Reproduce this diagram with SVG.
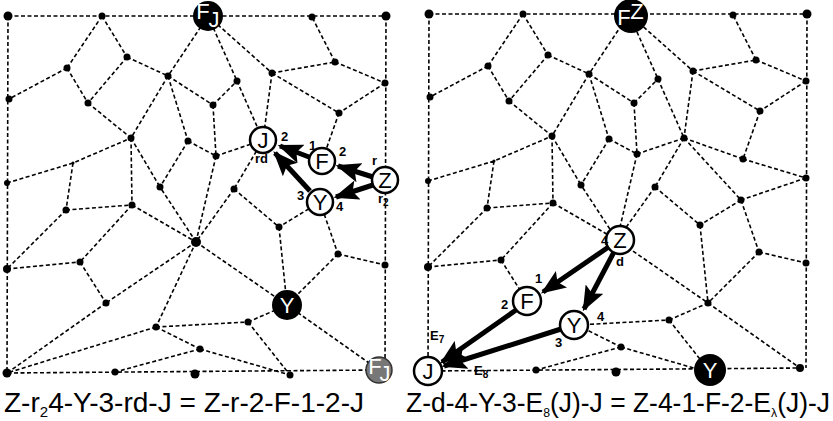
<svg xmlns="http://www.w3.org/2000/svg" xmlns:xlink="http://www.w3.org/1999/xlink" width="833" height="421" viewBox="0 0 833 421">
<style>
.e{stroke:#000;stroke-width:1.6;stroke-dasharray:4,2.5;fill:none}
.d{fill:#000}
.a{stroke:#000;stroke-width:5;fill:none;marker-end:url(#ah)}
.w{fill:#fff;stroke:#000;stroke-width:2.5}
.t{font-family:"Liberation Sans",Arial,sans-serif;font-size:22px;text-anchor:middle}
.l{font-family:"Liberation Sans",Arial,sans-serif;font-size:13px;font-weight:bold}
.c{font-family:"Liberation Sans",Arial,sans-serif;font-size:28px}
</style>
<defs>
<marker id="ah" markerWidth="5" markerHeight="4" refX="4.5" refY="2" orient="auto" markerUnits="strokeWidth"><path d="M0,0 L5,2 L0,4 L1,2 Z" fill="#000"/></marker>
<g id="graph">
<path class="e" d="M8,16L386,16 M8,16L7,373L379,370 M386,16L385,370
M102,16L127,57 M102,16L67,68 M127,57L168,76 M127,57L88,103 M67,68L9,99 M67,68L88,103 M88,103L131,138
M208,16L168,76 M168,76L131,138 M168,76L213,105 M168,76L188,141 M213,105L216,156 M213,105L237,81 M208,16L237,81 M208,16L272,73
M237,81L263,140 M272,73L263,140 M272,73L335,62 M272,73L339,113 M335,62L312,17 M335,62L385,83 M385,83L339,113 M339,113L322,161
M7,183L73,163L131,138 M131,138L160,187 M131,138L132,205 M188,141L216,156 M188,141L160,187 M216,156L263,140 M216,156L196,242
M263,140L234,189 M234,189L279,227 M234,189L196,242 M73,163L66,210 M320,202L279,227 M320,202L338,254
M66,210L132,205 M66,210L7,269 M132,205L80,262 M132,205L196,242 M7,269L80,262 M80,262L106,303 M196,242L160,187 M196,242L287,305
M279,227L287,305 M338,254L385,265 M338,254L287,305 M156,327L248,322 M248,322L287,305
M156,327L200,349 M200,349L115,372 M200,349L290,375 M248,322L290,375 M287,305L379,370"/>
<g class="d">
<circle cx="8" cy="16" r="4.5"/><circle cx="102" cy="16" r="3.5"/><circle cx="312" cy="17" r="3.5"/><circle cx="386" cy="16" r="4.5"/>
<circle cx="127" cy="57" r="3.5"/><circle cx="67" cy="68" r="3.5"/><circle cx="168" cy="76" r="3.5"/><circle cx="237" cy="81" r="3.5"/><circle cx="272" cy="73" r="3.5"/><circle cx="335" cy="62" r="3.5"/><circle cx="385" cy="83" r="3.5"/>
<circle cx="9" cy="99" r="3.5"/><circle cx="88" cy="103" r="3.5"/><circle cx="213" cy="105" r="3.5"/><circle cx="339" cy="113" r="3.5"/>
<circle cx="131" cy="138" r="3.5"/><circle cx="188" cy="141" r="3.5"/><circle cx="216" cy="156" r="3.5"/>
<circle cx="7" cy="183" r="3"/><circle cx="73" cy="163" r="1.5"/><circle cx="160" cy="187" r="3.5"/><circle cx="234" cy="189" r="3.5"/>
<circle cx="66" cy="210" r="3.5"/><circle cx="132" cy="205" r="3.5"/><circle cx="196" cy="242" r="5"/><circle cx="279" cy="227" r="3.5"/><circle cx="338" cy="254" r="3.5"/><circle cx="385" cy="265" r="3.5"/>
<circle cx="7" cy="269" r="4"/><circle cx="80" cy="262" r="3.5"/><circle cx="106" cy="303" r="3.5"/><circle cx="287" cy="305" r="3.5"/>
<circle cx="156" cy="327" r="3.5"/><circle cx="248" cy="322" r="3.5"/><circle cx="200" cy="349" r="3.5"/>
<circle cx="7" cy="373" r="4.5"/><circle cx="115" cy="372" r="3.5"/><circle cx="195" cy="374" r="4.5"/><circle cx="290" cy="375" r="3.5"/><circle cx="379" cy="370" r="4"/>
<circle cx="263" cy="140" r="3.5"/><circle cx="322" cy="161" r="3.5"/><circle cx="385" cy="180" r="3.5"/><circle cx="320" cy="202" r="3.5"/><circle cx="208" cy="16" r="4"/>
</g>
</g>
</defs>

<g id="connectors">
<use xlink:href="#graph" href="#graph"/>
<use xlink:href="#graph" href="#graph" transform="translate(421,-2)"/>
<path class="e" d="M196,242L106,303 M196,242L156,327 M106,303L7,373 M156,327L7,373"/>
<path class="e" transform="translate(421,-2)" d="M263,140L322,161 M322,161L385,180 M263,140L320,202 M385,180L320,202"/>
<line class="a" x1="373" y1="177" x2="338" y2="166"/>
<line class="a" x1="309" y1="157" x2="280" y2="146"/>
<line class="a" x1="310" y1="191" x2="275" y2="153"/>
<line class="a" x1="373" y1="185" x2="336" y2="197"/>
<line class="a" x1="610" y1="246" x2="543" y2="292"/>
<line class="a" x1="614" y1="252" x2="584" y2="309"/>
<line class="a" x1="516" y1="310" x2="442" y2="362"/>
<line class="a" x1="561" y1="329" x2="444" y2="366"/>
</g>

<g id="node-FJ"><circle cx="208" cy="16" r="15" fill="#000"/><text x="203" y="19" class="t" fill="#fff" font-size="17">F</text><text x="214" y="27" class="t" fill="#fff" font-size="17">J</text></g>
<g id="node-J"><circle class="w" cx="263" cy="140" r="13"/><text x="263" y="148" class="t">J</text></g>
<g id="node-F"><circle class="w" cx="322" cy="161" r="13"/><text x="322" y="169" class="t">F</text></g>
<g id="node-Z"><circle class="w" cx="385" cy="180" r="13"/><text x="385" y="188" class="t">Z</text></g>
<g id="node-Y"><circle class="w" cx="320" cy="202" r="13"/><text x="320" y="210" class="t">Y</text></g>
<g id="node-Yb"><circle cx="287" cy="305" r="15" fill="#000"/><text x="287" y="313" class="t" fill="#fff">Y</text></g>
<g id="node-FJg"><circle cx="379" cy="370" r="13" fill="#777" stroke="#333" stroke-width="1.5"/><text x="375" y="374" class="t" fill="#fff" font-size="15">F</text><text x="385" y="381" class="t" fill="#fff" font-size="15">J</text></g>

<g id="node-FZ"><circle cx="631" cy="16" r="17" fill="#000"/><text x="624" y="25" class="t" fill="#fff" font-size="17">F</text><text x="637" y="19" class="t" fill="#fff" font-size="17">Z</text></g>
<g id="node-Z2"><circle class="w" cx="620" cy="240" r="14"/><text x="620" y="248" class="t">Z</text></g>
<g id="node-F2"><circle class="w" cx="527" cy="301" r="14"/><text x="527" y="309" class="t">F</text></g>
<g id="node-Y2"><circle class="w" cx="574" cy="325" r="14"/><text x="574" y="333" class="t">Y</text></g>
<g id="node-J2"><circle class="w" cx="428" cy="371" r="14"/><text x="428" y="379" class="t">J</text></g>
<g id="node-Yb2"><circle cx="710" cy="370" r="16" fill="#000"/><text x="710" y="378" class="t" fill="#fff">Y</text></g>

<g id="labels">
<text class="l" x="281" y="141">2</text>
<text class="l" x="255" y="163" font-size="11">rd</text>
<text class="l" x="309" y="150">1</text>
<text class="l" x="339" y="156">2</text>
<text class="l" x="372" y="165">r</text>
<text class="l" x="378" y="203">r<tspan font-size="10" dy="3">2</tspan></text>
<text class="l" x="297" y="200">3</text>
<text class="l" x="336" y="211">4</text>
<text class="l" x="601" y="245">4</text>
<text class="l" x="616" y="266">d</text>
<text class="l" x="535" y="283">1</text>
<text class="l" x="501" y="309">2</text>
<text class="l" x="597" y="321">4</text>
<text class="l" x="555" y="347">3</text>
<text class="l" x="430" y="340" font-size="14">E<tspan font-size="10" dy="3">7</tspan></text>
<text class="l" x="474" y="375" font-size="14">E<tspan font-size="10" dy="3">8</tspan></text>
<text class="c" x="4" y="412" textLength="360" lengthAdjust="spacingAndGlyphs">Z-r<tspan font-size="15" dy="5">2</tspan><tspan dy="-5">4-Y-3-rd-J = Z-r-2-F-1-2-J</tspan></text>
<text class="c" x="406" y="412" textLength="424" lengthAdjust="spacingAndGlyphs">Z-d-4-Y-3-E<tspan font-size="13" dy="5">8</tspan><tspan dy="-5">(J)-J = Z-4-1-F-2-E</tspan><tspan font-size="13" dy="5">λ</tspan><tspan dy="-5">(J)-J</tspan></text>
</g>
</svg>
